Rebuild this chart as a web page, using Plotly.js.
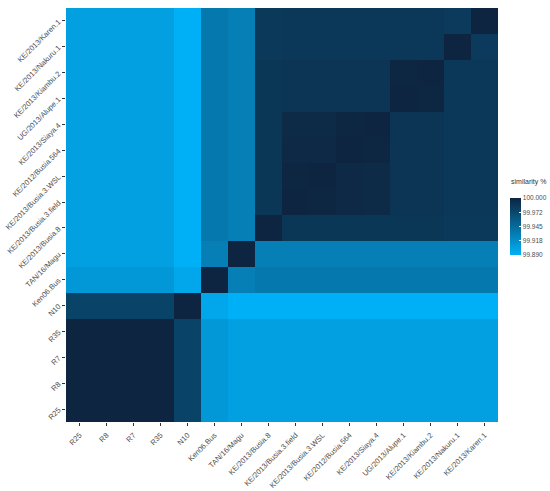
<!DOCTYPE html>
<html>
<head>
<meta charset="utf-8">
<script src="https://cdn.plot.ly/plotly-3.0.1.min.js"></script>
<style>html,body{margin:0;padding:0;background:#fff;}#chart{width:550px;height:491px;}</style>
</head>
<body>
<div id="chart"></div>
<script>
// Strain names (axis categories, bottom-to-top / left-to-right)
const strains = ["R25","R8","R7","R35","N10","Ken06.Bus","TAN/16/Magu","KE/2013/Busia.8","KE/2013/Busia.3.field","KE/2013/Busia.3.WSL","KE/2012/Busia.564","KE/2013/Siaya.4","UG/2013/Alupe.1","KE/2013/Kiambu.2","KE/2013/Nakuru.1","KE/2013/Karen.1"];

// Similarity % per row (row strain vs. each column strain)
const simR25    = [100,100,100,100,99.976,99.909,99.903,99.903,99.903,99.903,99.903,99.903,99.903,99.903,99.903,99.903];
const simR8     = [100,100,100,100,99.976,99.909,99.903,99.903,99.903,99.903,99.903,99.903,99.903,99.903,99.903,99.903];
const simR7     = [100,100,100,100,99.976,99.909,99.903,99.903,99.903,99.903,99.903,99.903,99.903,99.903,99.903,99.903];
const simR35    = [100,100,100,100,99.976,99.909,99.903,99.903,99.903,99.903,99.903,99.903,99.903,99.903,99.903,99.903];
const simN10    = [99.976,99.976,99.976,99.976,100,99.897,99.890,99.890,99.890,99.890,99.890,99.890,99.890,99.890,99.890,99.890];
const simKen06  = [99.909,99.909,99.909,99.909,99.897,100,99.929,99.934,99.934,99.934,99.934,99.934,99.934,99.934,99.934,99.934];
const simTAN    = [99.903,99.903,99.903,99.903,99.890,99.929,100,99.929,99.929,99.929,99.929,99.929,99.929,99.929,99.929,99.929];
const simBusia8 = [99.903,99.903,99.903,99.903,99.890,99.934,99.929,100,99.986,99.986,99.986,99.986,99.986,99.986,99.984,99.984];
const simBusia3f= [99.903,99.903,99.903,99.903,99.890,99.934,99.929,99.986,100,99.999,99.997,99.996,99.988,99.988,99.985,99.985];
const simBusia3w= [99.903,99.903,99.903,99.903,99.890,99.934,99.929,99.986,99.999,100,99.997,99.996,99.988,99.988,99.985,99.985];
const simBusia564=[99.903,99.903,99.903,99.903,99.890,99.934,99.929,99.986,99.997,99.997,100,99.999,99.988,99.988,99.985,99.985];
const simSiaya4 = [99.903,99.903,99.903,99.903,99.890,99.934,99.929,99.986,99.996,99.996,99.999,100,99.988,99.988,99.985,99.985];
const simAlupe1 = [99.903,99.903,99.903,99.903,99.890,99.934,99.929,99.986,99.988,99.988,99.988,99.988,100,99.999,99.985,99.985];
const simKiambu2= [99.903,99.903,99.903,99.903,99.890,99.934,99.929,99.986,99.988,99.988,99.988,99.988,99.999,100,99.985,99.985];
const simNakuru1= [99.903,99.903,99.903,99.903,99.890,99.934,99.929,99.984,99.985,99.985,99.985,99.985,99.985,99.985,100,99.983];
const simKaren1 = [99.903,99.903,99.903,99.903,99.890,99.934,99.929,99.984,99.985,99.985,99.985,99.985,99.985,99.985,99.983,100];

const legendTicks = [99.890, 99.918, 99.945, 99.972, 100.000];
const legendTickText = ["99.890","99.918","99.945","99.972","100.000"];

const z = [simR25, simR8, simR7, simR35, simN10, simKen06, simTAN, simBusia8, simBusia3f, simBusia3w, simBusia564, simSiaya4, simAlupe1, simKiambu2, simNakuru1, simKaren1];

const fontFam = "Liberation Sans, Arial, sans-serif";

const trace = {
  type: "heatmap",
  x: strains,
  y: strains,
  z: z,
  zmin: 99.89,
  zmax: 100,
  colorscale: [[0, "#00B0F6"], [1, "#0D2540"]],
  xgap: 0, ygap: 0,
  colorbar: {
    thickness: 11,
    len: 57, lenmode: "pixels",
    xref: "container", x: 510 / 550, xanchor: "left",
    yref: "container", y: (491 - 268.5) / 491, yanchor: "middle",
    xpad: 0, ypad: 0,
    outlinewidth: 0,
    tickvals: legendTicks,
    ticktext: legendTickText,
    ticks: "inside", ticklen: 2, tickcolor: "#ffffff",
    tickfont: {family: fontFam, size: 6.5, color: "#4d4d4d"}
  }
};

const axisCommon = {
  type: "category",
  tickangle: -45,
  ticks: "outside",
  ticklen: 3,
  tickcolor: "#333333",
  tickwidth: 1,
  ticklabelstandoff: 2,
  showgrid: false,
  zeroline: false,
  showline: false,
  automargin: false,
  tickfont: {family: fontFam, size: 7.5, color: "#4d4d4d"}
};

const layout = {
  width: 550, height: 491,
  margin: {l: 66, r: 52, t: 8, b: 69},
  paper_bgcolor: "#ffffff",
  plot_bgcolor: "#ffffff",
  xaxis: Object.assign({}, axisCommon, {categoryorder: "array", categoryarray: strains}),
  yaxis: Object.assign({}, axisCommon, {categoryorder: "array", categoryarray: strains}),
  annotations: [{
    text: "similarity %",
    xref: "paper", yref: "paper",
    x: (509 - 66) / 432, xanchor: "left",
    y: (422 - 182) / 414, yanchor: "middle",
    showarrow: false,
    font: {family: fontFam, size: 7, color: "#333"}
  }],
  showlegend: false
};

Plotly.newPlot("chart", [trace], layout, {displayModeBar: false, staticPlot: true});
</script>
</body>
</html>
